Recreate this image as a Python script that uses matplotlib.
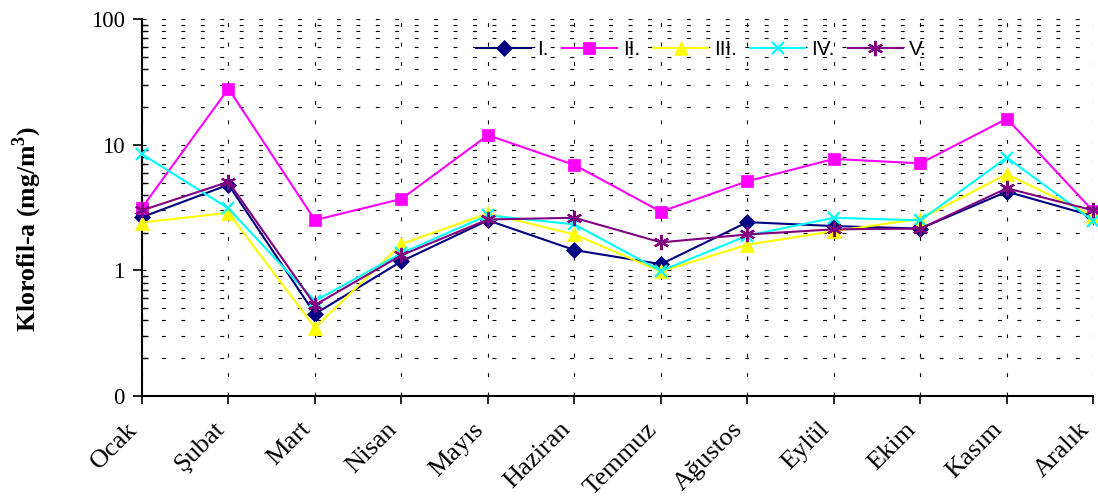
import matplotlib
matplotlib.use('Agg')
import matplotlib.pyplot as plt
from matplotlib.ticker import LogLocator, FixedLocator, FixedFormatter, NullFormatter

plt.rcParams['font.family'] = 'serif'
plt.rcParams['font.serif'] = ['Liberation Serif', 'DejaVu Serif']
plt.rcParams['font.sans-serif'] = ['Liberation Sans', 'DejaVu Sans']
plt.rcParams['mathtext.fontset'] = 'custom'
plt.rcParams['mathtext.rm'] = 'Liberation Serif'
plt.rcParams['mathtext.bf'] = 'Liberation Serif:bold'

months = ['Ocak', 'Şubat', 'Mart', 'Nisan', 'Mayıs', 'Haziran', 'Temmuz',
          'Ağustos', 'Eylül', 'Ekim', 'Kasım', 'Aralık']

s1 = [2.65, 4.8, 0.45, 1.18, 2.5, 1.45, 1.12, 2.42, 2.25, 2.15, 4.23, 2.7]
s2 = [3.15, 27.9, 2.51, 3.7, 11.9, 6.9, 2.93, 5.12, 7.7, 7.1, 16.1, 2.95]
s3 = [2.4, 2.87, 0.35, 1.62, 2.84, 1.93, 0.98, 1.6, 2.05, 2.57, 5.83, 2.7]
s4 = [8.4, 3.11, 0.57, 1.37, 2.74, 2.32, 0.99, 1.89, 2.62, 2.5, 7.9, 2.47]
s5 = [3.0, 5.06, 0.53, 1.32, 2.54, 2.62, 1.67, 1.93, 2.12, 2.15, 4.5, 3.0]

series_names = ['I.', 'II.', 'III.', 'IV.', 'V.']
colors = ['#000080', '#FF00FF', '#FFFF00', '#00FFFF', '#800080']
markers = ['D', 's', '^', 'x', (6, 2, 0)]
msizes = [8, 9, 10, 9, 11]

ytick_vals = [0.1, 1, 10, 100]
ytick_labels = ['0', '1', '10', '100']

fig = plt.figure(figsize=(10.98, 5.03), dpi=100)
ax = fig.add_axes([0.1293, 0.2127, 0.8665, 0.7495])

x = list(range(len(months)))
for vals, name, c, m, ms in zip([s1, s2, s3, s4, s5], series_names, colors, markers, msizes):
    ax.plot(x, vals, color=c, marker=m, markersize=ms, linewidth=1.5,
            markeredgewidth=1.6 if m in ('x', (6, 2, 0)) else 0.5,
            markeredgecolor=c, label=name, zorder=3, clip_on=False)

ax.set_yscale('log')
ax.set_ylim(0.1, 100)
ax.set_xlim(0, 11)

ax.yaxis.set_major_locator(FixedLocator(ytick_vals))
ax.yaxis.set_major_formatter(FixedFormatter(ytick_labels))
ax.yaxis.set_minor_locator(LogLocator(base=10, subs=range(2, 10)))
ax.yaxis.set_minor_formatter(NullFormatter())
ax.set_xticks(x)

ax.tick_params(axis='y', which='major', direction='out', length=6.5, width=1.2, pad=6, labelsize=16.5)
ax.tick_params(axis='y', which='minor', direction='in', length=4, width=1.0)
ax.tick_params(axis='x', which='major', direction='out', length=6, width=1.2, pad=10, labelsize=19)

# dashed grid like the excel chart
dash = (0, (3.5, 14))
ax.grid(True, which='both', axis='y', color='black', linewidth=0.8, linestyle=dash)
ax.grid(True, which='major', axis='x', color='black', linewidth=0.8, linestyle=dash)
ax.set_axisbelow(True)

for side in ['top', 'right']:
    ax.spines[side].set_visible(False)
ax.spines['left'].set_linewidth(1.5)
ax.spines['bottom'].set_linewidth(1.5)

ax.set_xticklabels(months, rotation=45, ha='right', fontsize=19)

fig.text(0.025, 0.545, 'Klorofil-a (mg/m$^{\\mathbf{3}}$)', rotation=90, ha='center', va='center',
         fontweight='bold', fontsize=18.5)

leg = ax.legend(loc='center', bbox_to_anchor=(0.588, 0.918), ncol=5, frameon=False,
                prop={'family': 'sans-serif', 'size': 15}, handlelength=2.64,
                columnspacing=0.62, handletextpad=0.29)

plt.savefig('out.png', dpi=100)
